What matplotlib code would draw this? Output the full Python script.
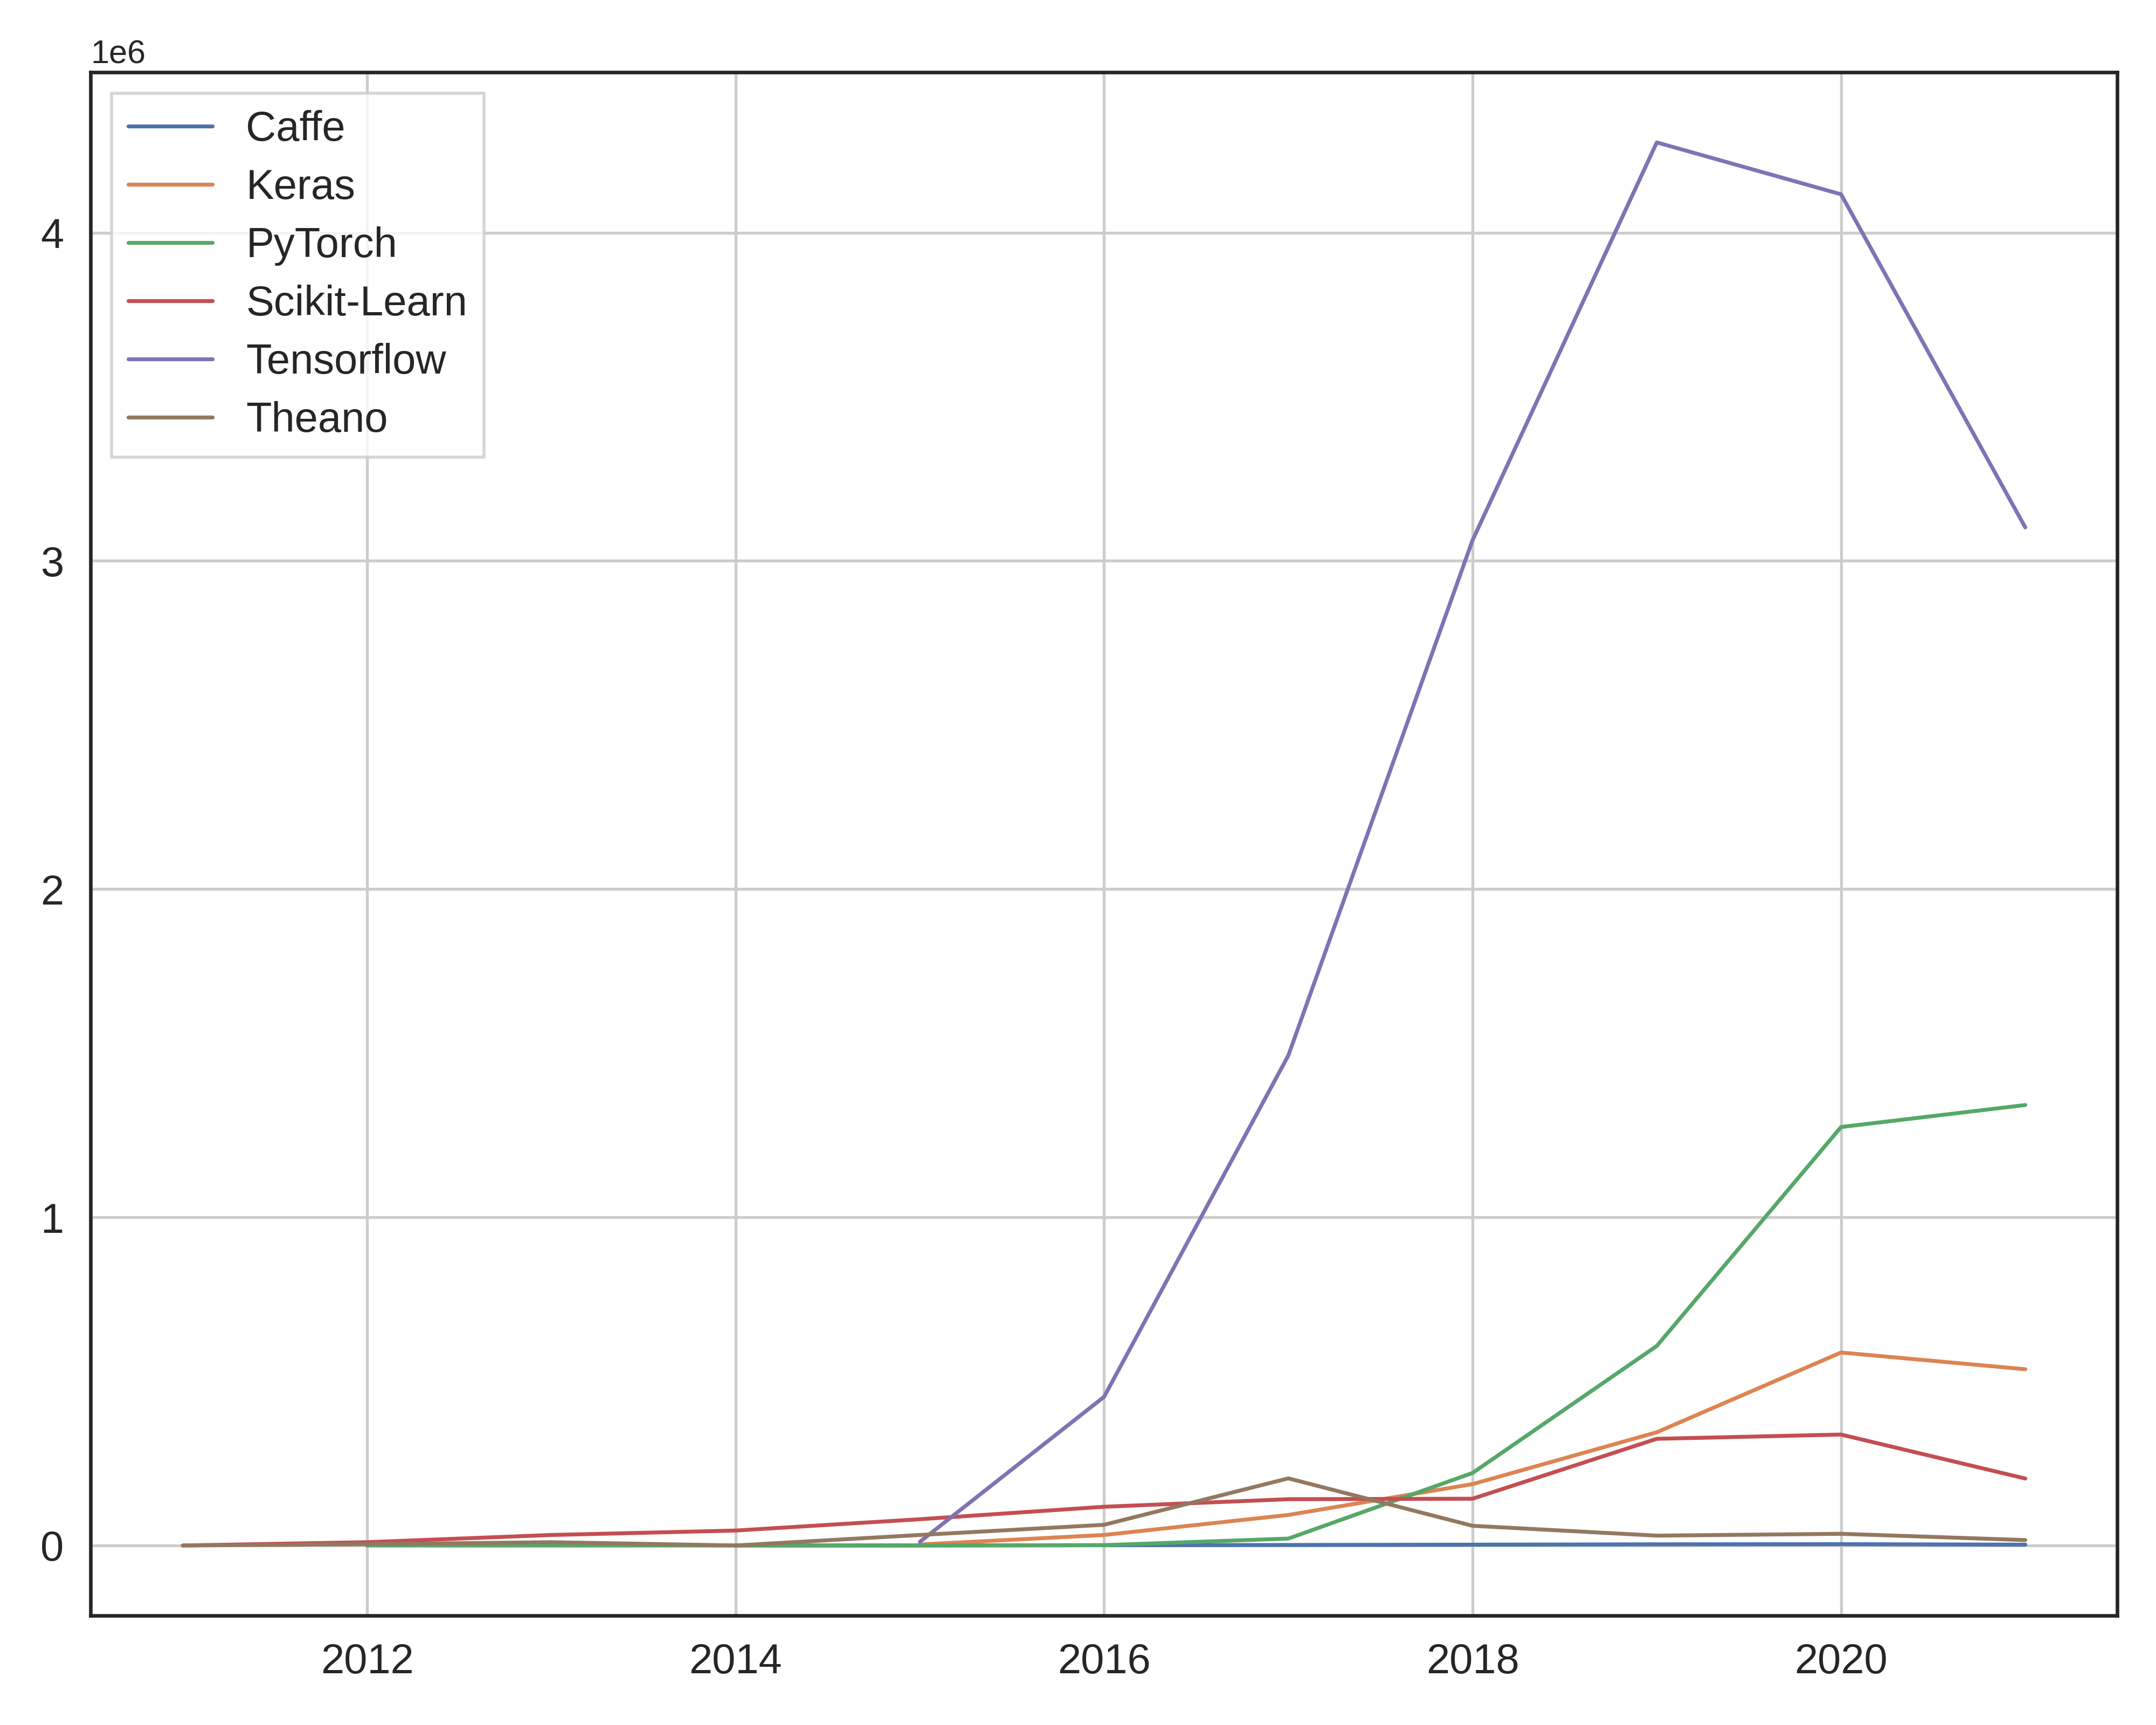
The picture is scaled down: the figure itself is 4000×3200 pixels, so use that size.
import matplotlib
matplotlib.use("Agg")
import matplotlib.pyplot as plt
import numpy as np
import seaborn as sns

sns.set_style("white")
plt.rcParams["font.family"] = ["Arial", "Liberation Sans", "DejaVu Sans"]

nan = np.nan
years = list(range(2011, 2022))

# yearly counts per framework
caffe = [nan, nan, nan, 0, 200, 800, 1500, 2500, 3500, 4000, 2500]
keras = [nan, nan, nan, nan, 3000, 32000, 93000, 187000, 345000, 588000, 537000]
pytorch = [nan, 0, 0, 0, 0, 1000, 21000, 221000, 608000, 1275000, 1342000]
sklearn = [0, 10000, 32000, 45500, 80000, 118000, 141000, 142500, 325000, 338000, 204000]
tensorflow = [nan, nan, nan, nan, 11000, 453000, 1493000, 3063000, 4275000, 4117000, 3102000]
theano = [0, 4000, 10000, 0, 32000, 63000, 204500, 60000, 30000, 35600, 16500]

series = {
    "Caffe": caffe,
    "Keras": keras,
    "PyTorch": pytorch,
    "Scikit-Learn": sklearn,
    "Tensorflow": tensorflow,
    "Theano": theano,
}
colors = sns.color_palette("deep", 6)

fig, ax = plt.subplots(figsize=(10, 8), dpi=400)
fig.subplots_adjust(left=0.0421, right=0.9821, bottom=0.0634, top=0.9581)

for (name, vals), c in zip(series.items(), colors):
    ax.plot(years, vals, color=c, linewidth=1.3, label=name)

ax.set_xticks([2012, 2014, 2016, 2018, 2020])
ax.grid(True, color="#cccccc", linewidth=0.95)
ax.tick_params(labelsize=14, colors="#262626", pad=5.5)
ax.yaxis.get_offset_text().set_fontsize(11)
for sp in ax.spines.values():
    sp.set_color("#262626")
    sp.set_linewidth(1.2)

ax.legend(loc="upper left", fontsize=14, fancybox=False, labelspacing=0.45)

fig.savefig("out.png", dpi=400)
